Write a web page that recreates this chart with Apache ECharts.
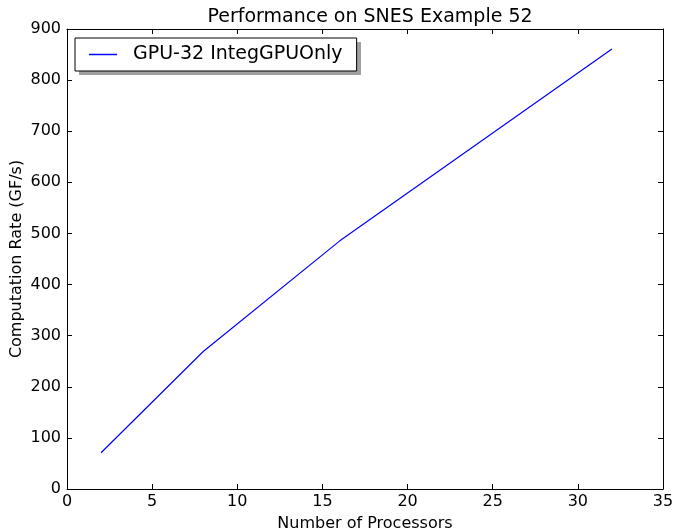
<!DOCTYPE html>
<html>
<head>
<meta charset="utf-8">
<script src="https://cdn.jsdelivr.net/npm/echarts@6/dist/echarts.min.js"></script>
<style>
html,body{margin:0;padding:0;background:#fff;}
#chart{width:674px;height:531px;}
</style>
</head>
<body>
<div id="chart"></div>
<script>
const processors = [2, 8, 16, 32];
const rates = [71, 269, 485, 861];
const seriesName = 'GPU-32 IntegGPUOnly';
const xTicks = [0, 5, 10, 15, 20, 25, 30, 35];
const yTicks = [0, 100, 200, 300, 400, 500, 600, 700, 800, 900];

const FONT = 'DejaVu Sans';
const chart = echarts.init(document.getElementById('chart'));

function xAxisDef(pos, showLabel, name) {
  return {
    type: 'value', position: pos, min: xTicks[0], max: xTicks[xTicks.length - 1], interval: 5,
    name: name || '', nameLocation: 'middle', nameGap: 27, nameMoveOverlap: false,
    nameTextStyle: { fontFamily: FONT, fontSize: 16, color: '#000' },
    axisLine: { show: true, onZero: false, lineStyle: { color: '#000', width: 1 } },
    axisTick: { show: true, inside: true, length: 5, lineStyle: { color: '#000' } },
    axisLabel: { show: showLabel, fontFamily: FONT, fontSize: 16, color: '#000', margin: 5 },
    splitLine: { show: false }
  };
}
function yAxisDef(pos, showLabel, name) {
  return {
    type: 'value', position: pos, min: yTicks[0], max: yTicks[yTicks.length - 1], interval: 100,
    name: name || '', nameLocation: 'middle', nameGap: 42, nameMoveOverlap: false,
    nameTextStyle: { fontFamily: FONT, fontSize: 16, color: '#000' },
    axisLine: { show: true, onZero: false, lineStyle: { color: '#000', width: 1 } },
    axisTick: { show: true, inside: true, length: 5, lineStyle: { color: '#000' } },
    axisLabel: { show: showLabel, fontFamily: FONT, fontSize: 16, color: '#000', margin: 6 },
    splitLine: { show: false }
  };
}

chart.setOption({
  animation: false,
  backgroundColor: '#fff',
  title: {
    text: 'Performance on SNES Example 52',
    left: 365, textAlign: 'center', top: 3,
    textStyle: { fontFamily: FONT, fontSize: 19, fontWeight: 'normal', color: '#000' }
  },
  graphic: [{
    type: 'rect', z: 50, silent: true,
    shape: { x: 79, y: 42, width: 282, height: 33 },
    style: { fill: '#a0a0a0' }
  }],
  legend: {
    left: 75, top: 38, z: 60,
    padding: [7, 14, 7, 14],
    itemGap: 0,
    itemWidth: 28, itemHeight: 1.5,
    icon: 'rect',
    backgroundColor: '#fff',
    borderColor: '#000', borderWidth: 1, borderRadius: 0,
    textStyle: { fontFamily: FONT, fontSize: 19, color: '#000', padding: [0, 0, 0, 11] },
    data: [seriesName]
  },
  grid: { left: 67, right: 11, top: 29, bottom: 42, containLabel: false, outerBoundsMode: 'none' },
  xAxis: [xAxisDef('bottom', true, 'Number of Processors'), xAxisDef('top', false)],
  yAxis: [yAxisDef('left', true, 'Computation Rate (GF/s)'), yAxisDef('right', false)],
  series: [{
    name: seriesName,
    type: 'line',
    xAxisIndex: 0, yAxisIndex: 0,
    data: processors.map((p, i) => [p, rates[i]]),
    showSymbol: false, symbol: 'none',
    lineStyle: { color: '#0000ff', width: 1.2 },
    itemStyle: { color: '#0000ff' }
  }]
});
</script>
</body>
</html>
